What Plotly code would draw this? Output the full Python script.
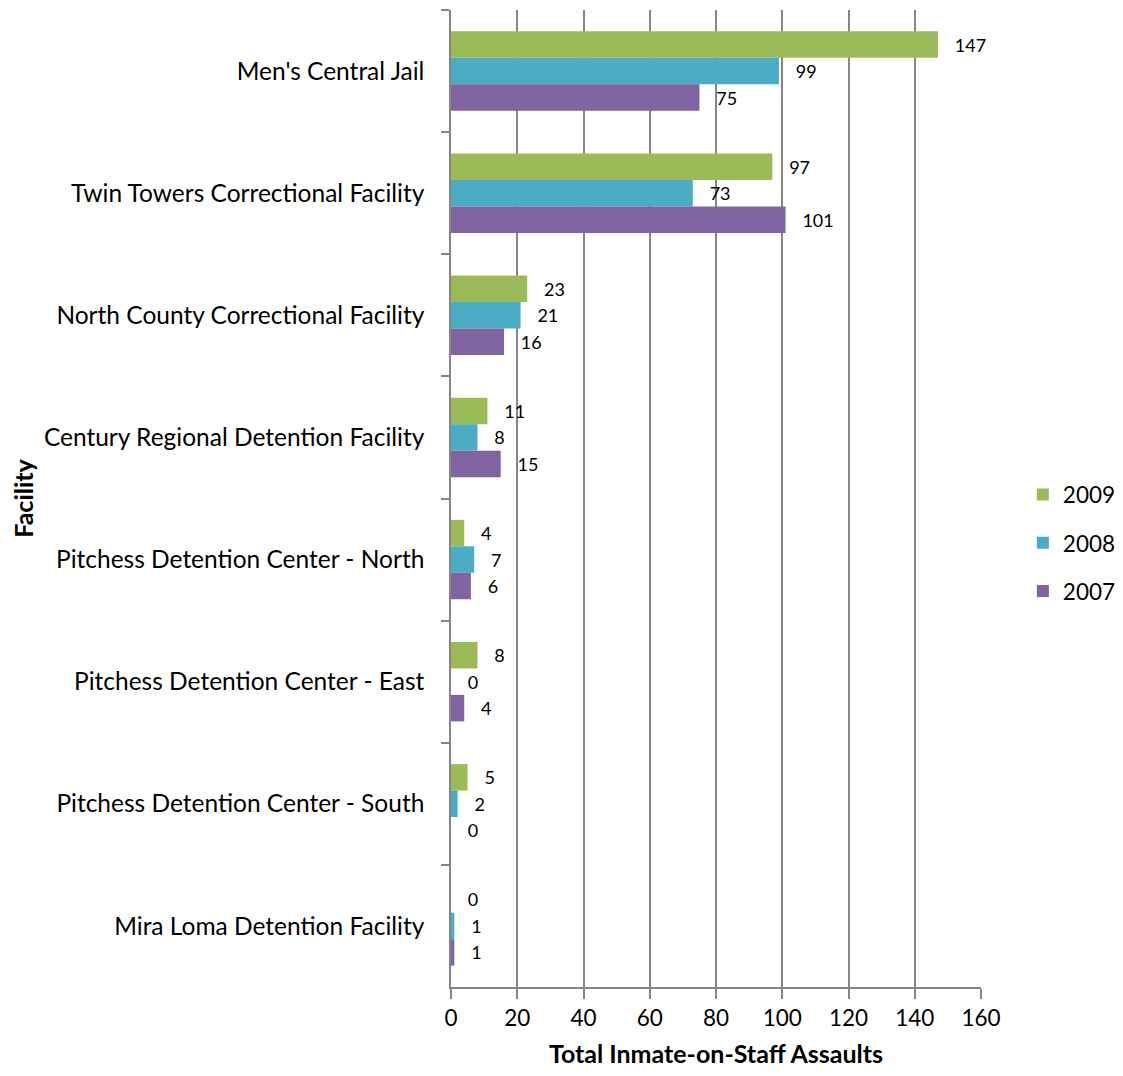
import plotly.graph_objects as go

facilities = [
    "Men's Central Jail",
    "Twin Towers Correctional Facility",
    "North County Correctional Facility",
    "Century Regional Detention Facility",
    "Pitchess Detention Center - North",
    "Pitchess Detention Center - East",
    "Pitchess Detention Center - South",
    "Mira Loma Detention Facility",
]
years = ["2009", "2008", "2007"]
v2009 = [147, 97, 23, 11, 4, 8, 5, 0]
v2008 = [99, 73, 21, 8, 7, 0, 2, 1]
v2007 = [75, 101, 16, 15, 6, 4, 0, 1]
colors = ["#9BBB59", "#4BACC6", "#8064A2"]

FONT = "Lato"
GRID = "#868686"

fig = go.Figure()
for name, vals, col in zip(years, [v2009, v2008, v2007], colors):
    fig.add_trace(go.Bar(
        y=facilities, x=vals, name=name, orientation="h",
        marker=dict(color=col, line=dict(width=0)),
        text=vals, texttemplate="\u00a0\u00a0\u00a0%{x}",
        textposition="outside", cliponaxis=False,
        textfont=dict(family=FONT, size=18, color="black"),
        legendgroup=name,
    ))

fig.update_layout(
    width=1107, height=1060,
    margin=dict(l=443, r=134, t=2, b=81, autoexpand=False),
    paper_bgcolor="white", plot_bgcolor="white",
    barmode="group", bargap=0.35, bargroupgap=0,
    font=dict(family=FONT, size=22, color="black"),
    legend=dict(x=1.079, y=0.4545, xanchor="left", yanchor="middle",
                traceorder="grouped", tracegroupgap=16,
                font=dict(family=FONT, size=22.5, color="black")),
    showlegend=True,
)
fig.update_xaxes(
    range=[0, 160], dtick=20, showgrid=True, gridcolor=GRID, gridwidth=1.5,
    showline=True, linecolor=GRID, linewidth=1.5, zeroline=False,
    ticks="outside", ticklen=10, tickcolor=GRID, tickwidth=1.5,
    tickfont=dict(family=FONT, size=22.5, color="black"),
    title=dict(text="<b>Total Inmate-on-Staff Assaults</b>",
               font=dict(family=FONT, size=25, color="black"), standoff=20),
)
fig.update_yaxes(
    autorange="reversed", showgrid=False, showline=True, linecolor=GRID, linewidth=1.5,
    ticks="outside", ticklen=8, tickcolor=GRID, tickwidth=1.5, tickson="boundaries",
    ticklabelstandoff=20,
    tickfont=dict(family=FONT, size=24.5, color="black"),
    title=dict(text="<b>Facility</b>",
               font=dict(family=FONT, size=25, color="black"), standoff=12),
)
fig.write_html("out.html")
